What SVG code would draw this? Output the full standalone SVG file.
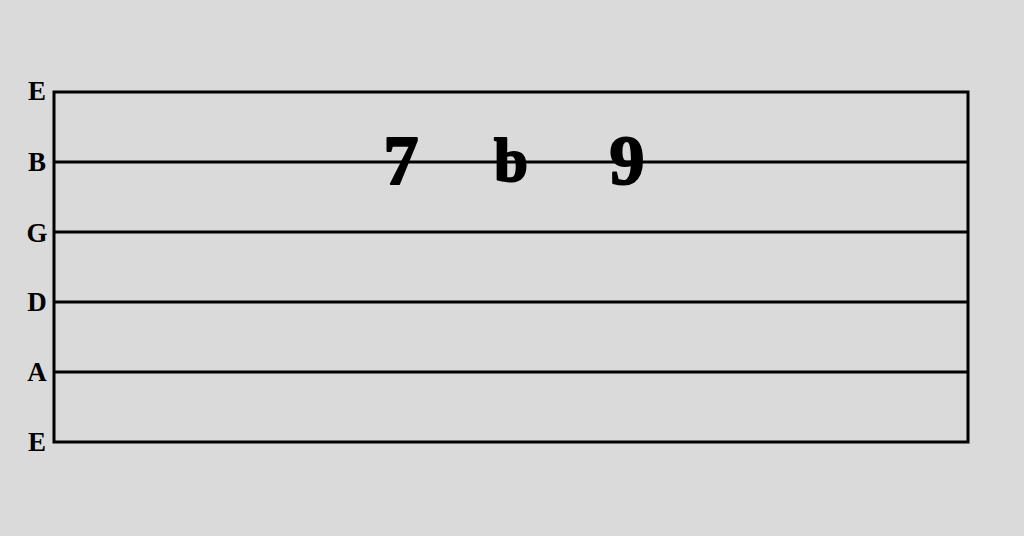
<svg xmlns="http://www.w3.org/2000/svg" width="1024" height="536" viewBox="0 0 1024 536">
<style>
.str{stroke:#000;stroke-width:3;fill:none}
.lbl{font-family:"Liberation Serif",serif;font-weight:bold;font-size:27px;fill:#000;text-anchor:middle}
.num{font-family:"Liberation Serif",serif;font-weight:bold;font-size:70px;fill:#000;stroke:#000;stroke-width:2;stroke-linejoin:round;text-anchor:middle}
</style>
<rect width="1024" height="536" fill="#dadada"/>
<g id="staff">
<rect class="str" x="54" y="92" width="914" height="350"/>
<line class="str" x1="54" y1="162" x2="968" y2="162"/>
<line class="str" x1="54" y1="232" x2="968" y2="232"/>
<line class="str" x1="54" y1="302" x2="968" y2="302"/>
<line class="str" x1="54" y1="372" x2="968" y2="372"/>
</g>
<g id="labels">
<text class="lbl" x="37" y="100">E</text>
<text class="lbl" x="37" y="171">B</text>
<text class="lbl" x="37" y="242">G</text>
<text class="lbl" x="37" y="311">D</text>
<text class="lbl" x="37" y="381">A</text>
<text class="lbl" x="37" y="451">E</text>
</g>
<g id="notes">
<text class="num" x="401" y="184">7</text>
<text class="num" x="511" y="181" style="font-size:61px">b</text>
<text class="num" x="627" y="184">9</text>
</g>
</svg>
